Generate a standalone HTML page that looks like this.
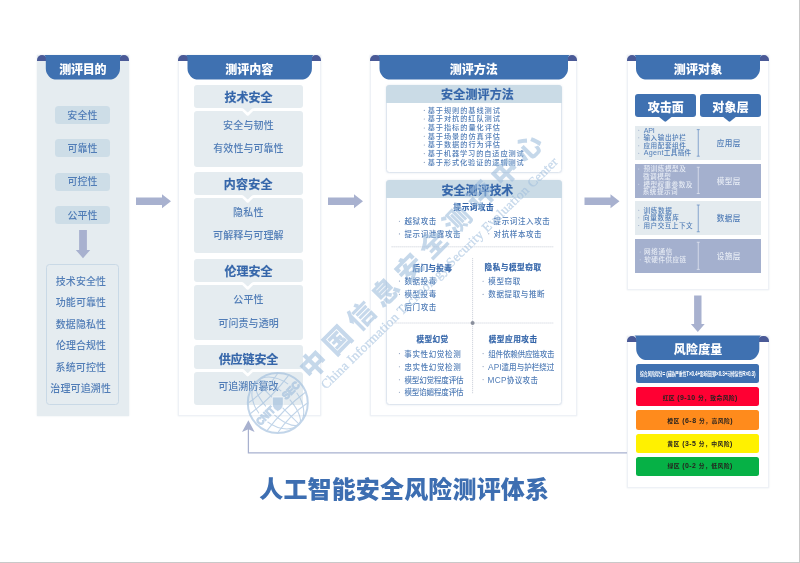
<!DOCTYPE html>
<html lang="zh-CN">
<head>
<meta charset="utf-8">
<title>人工智能安全风险测评体系</title>
<style>
*{margin:0;padding:0;box-sizing:border-box}
html,body{width:800px;height:563px;overflow:hidden;background:#fff}
body{position:relative;font-family:"Liberation Sans","Noto Sans CJK SC",sans-serif;color:#4b78b4}
#stage{position:absolute;left:0;top:0;width:800px;height:563px;overflow:hidden;border-right:1.5px solid #c9c9c9;border-bottom:1.5px solid #c9c9c9;filter:blur(.6px)}
#stage>div{position:absolute}
#stage>svg{position:absolute;left:0;top:0}
.panel{border:1px solid #eef1f6;box-shadow:0 0 1.5px rgba(160,175,200,.3)}
.ear{background:#4a5a97;border-radius:5px 5px 0 0}
.tab{background:#3f71b1}
.obox{border:1px solid #c9d9e6;border-radius:3.5px}
.wbox{border:1px solid #dfe6ef;border-radius:3.5px;background:#fff;box-shadow:0 0 2px rgba(150,170,200,.3)}
.t{white-space:nowrap;z-index:2}
</style>
</head>
<body>
<div id="stage">
<div class="panel" style="left:37px;top:55px;width:91.8px;height:360.7px;background:#e5ecf0;border-color:#e5ecf0"></div>
<div class="ear" style="left:37px;top:55px;width:10px;height:6.1px"></div>
<div class="ear" style="left:118.8px;top:55px;width:10px;height:6.1px"></div>
<div style="left:55.3px;top:105.7px;width:55px;height:18.2px;background:#cddde7;border-radius:3.5px;"></div>
<div style="left:55.3px;top:139.15px;width:55px;height:18.2px;background:#cddde7;border-radius:3.5px;"></div>
<div style="left:55.3px;top:172.6px;width:55px;height:18.2px;background:#cddde7;border-radius:3.5px;"></div>
<div style="left:55.3px;top:206.05px;width:55px;height:18.2px;background:#cddde7;border-radius:3.5px;"></div>
<div class="obox" style="left:46.2px;top:264.3px;width:73.2px;height:140.7px"></div>
<div class="panel" style="left:178.3px;top:55px;width:142.4px;height:360.7px;background:#fff;border-color:#eef1f6"></div>
<div class="ear" style="left:178.3px;top:55px;width:10.4px;height:6.1px"></div>
<div class="ear" style="left:310.7px;top:55px;width:10px;height:6.1px"></div>
<div style="left:194.4px;top:85.1px;width:108.2px;height:23.3px;background:#e5ecf0;border-radius:3px;"></div>
<div style="left:194.4px;top:110.9px;width:108.2px;height:55.7px;background:#e5ecf0;border-radius:3px;"></div>
<div style="left:194.4px;top:171.7px;width:108.2px;height:23.3px;background:#e5ecf0;border-radius:3px;"></div>
<div style="left:194.4px;top:197.9px;width:108.2px;height:55.3px;background:#e5ecf0;border-radius:3px;"></div>
<div style="left:194.4px;top:258.7px;width:108.2px;height:23.3px;background:#e5ecf0;border-radius:3px;"></div>
<div style="left:194.4px;top:284.9px;width:108.2px;height:55.3px;background:#e5ecf0;border-radius:3px;"></div>
<div style="left:194.4px;top:345.4px;width:108.2px;height:23.5px;background:#e5ecf0;border-radius:3px;"></div>
<div style="left:194.4px;top:371.5px;width:108.2px;height:33.8px;background:#e5ecf0;border-radius:3px;"></div>
<div class="panel" style="left:370px;top:55px;width:207.3px;height:360.7px;background:#fff;border-color:#eef1f6"></div>
<div class="ear" style="left:370px;top:55px;width:10.7px;height:6.1px"></div>
<div class="ear" style="left:566.8px;top:55px;width:10.5px;height:6.1px"></div>
<div class="wbox" style="left:385.6px;top:84.8px;width:176.4px;height:88.4px"></div>
<div style="left:385.6px;top:84.8px;width:176.4px;height:18px;background:#cadbe6;border-radius:3.5px 3.5px 0 0;"></div>
<div class="wbox" style="left:385.6px;top:180.3px;width:176.4px;height:225px"></div>
<div style="left:385.6px;top:180.3px;width:176.4px;height:17.5px;background:#cadbe6;border-radius:3.5px 3.5px 0 0;"></div>
<div class="panel" style="left:627px;top:55px;width:141.6px;height:235.4px;background:#fff;border-color:#eef1f6"></div>
<div class="ear" style="left:627px;top:55px;width:10.2px;height:6.1px"></div>
<div class="ear" style="left:758.8px;top:55px;width:9.8px;height:6.1px"></div>
<div style="left:635px;top:93.5px;width:61px;height:23.7px;background:#3f71b1;border-radius:3px;"></div>
<div style="left:700px;top:93.5px;width:61px;height:23.7px;background:#3f71b1;border-radius:3px;"></div>
<div style="left:634.8px;top:125.8px;width:126.1px;height:34.1px;background:#e4ebef;"></div>
<div style="left:634.8px;top:163.75px;width:126.1px;height:33.75px;background:#a4b0ce;"></div>
<div style="left:634.8px;top:201.1px;width:126.1px;height:33.8px;background:#e4ebef;"></div>
<div style="left:634.8px;top:239.1px;width:126.1px;height:33.8px;background:#a4b0ce;"></div>
<div class="panel" style="left:627px;top:335.5px;width:141.6px;height:152px;background:#fff;border-color:#eef1f6"></div>
<div class="ear" style="left:627px;top:335.5px;width:10.4px;height:6.1px"></div>
<div class="ear" style="left:758.1px;top:335.5px;width:10.5px;height:6.1px"></div>
<div style="left:635.6px;top:363.85px;width:123.4px;height:19.4px;background:#3f71b1;border-radius:2.5px;"></div>
<div style="left:635.6px;top:387.1px;width:123.4px;height:19.2px;background:#ff0033;border-radius:2.5px;"></div>
<div style="left:635.6px;top:410.4px;width:123.4px;height:19.2px;background:#ff8b1c;border-radius:2.5px;"></div>
<div style="left:635.6px;top:434px;width:123.4px;height:19.2px;background:#fff100;border-radius:2.5px;"></div>
<div style="left:635.6px;top:456.9px;width:123.4px;height:19.2px;background:#06b146;border-radius:2.5px;"></div>
<svg width="800" height="563" viewBox="0 0 800 563">
<path d="M43.6 55Q45.8 55 45.8 59.5V68.6A11 11 0 0 0 56.8 79.6H109A11 11 0 0 0 120 68.6V59.5Q120 55 122.2 55Z" fill="#3f71b1"/>
<polygon points="79.1,230 86.9,230 86.9,250.0 90.2,250.0 83,258.2 75.8,250.0 79.1,250.0" fill="#a8b1cf"/>
<path d="M185.3 55Q187.5 55 187.5 59.5V68.6A11 11 0 0 0 198.5 79.6H300.9A11 11 0 0 0 311.9 68.6V59.5Q311.9 55 314.1 55Z" fill="#3f71b1"/>
<polygon points="240.7,107.9 254.7,107.9 247.7,113.0" fill="#e5ecf0"/>
<polyline points="238.7,109.60000000000001 242.7,109.60000000000001 247.7,114.5 252.7,109.60000000000001 256.7,109.60000000000001" fill="none" stroke="#fff" stroke-width="2.6" stroke-linejoin="round"/>
<polygon points="240.7,194.5 254.7,194.5 247.7,199.6" fill="#e5ecf0"/>
<polyline points="238.7,196.6 242.7,196.6 247.7,201.5 252.7,196.6 256.7,196.6" fill="none" stroke="#fff" stroke-width="2.6" stroke-linejoin="round"/>
<polygon points="240.7,281.5 254.7,281.5 247.7,286.6" fill="#e5ecf0"/>
<polyline points="238.7,283.59999999999997 242.7,283.59999999999997 247.7,288.5 252.7,283.59999999999997 256.7,283.59999999999997" fill="none" stroke="#fff" stroke-width="2.6" stroke-linejoin="round"/>
<polygon points="240.7,368.4 254.7,368.4 247.7,373.5" fill="#e5ecf0"/>
<polyline points="238.7,370.2 242.7,370.2 247.7,375.1 252.7,370.2 256.7,370.2" fill="none" stroke="#fff" stroke-width="2.6" stroke-linejoin="round"/>
<path d="M377.3 55Q379.5 55 379.5 59.5V68.6A11 11 0 0 0 390.5 79.6H557A11 11 0 0 0 568 68.6V59.5Q568 55 570.2 55Z" fill="#3f71b1"/>
<circle cx="424.3" cy="110.4" r="0.55" fill="#7f93b5"/>
<circle cx="424.3" cy="119" r="0.55" fill="#7f93b5"/>
<circle cx="424.3" cy="128" r="0.55" fill="#7f93b5"/>
<circle cx="424.3" cy="136.3" r="0.55" fill="#7f93b5"/>
<circle cx="424.3" cy="145" r="0.55" fill="#7f93b5"/>
<circle cx="424.3" cy="153.6" r="0.55" fill="#7f93b5"/>
<circle cx="424.3" cy="162.4" r="0.55" fill="#7f93b5"/>
<circle cx="399.4" cy="221.3" r="0.55" fill="#7f93b5"/>
<circle cx="488.75" cy="221.2" r="0.55" fill="#7f93b5"/>
<circle cx="399.4" cy="233.9" r="0.55" fill="#7f93b5"/>
<circle cx="488.75" cy="233.7" r="0.55" fill="#7f93b5"/>
<circle cx="399.4" cy="281.1" r="0.55" fill="#7f93b5"/>
<circle cx="399.4" cy="294.2" r="0.55" fill="#7f93b5"/>
<circle cx="399.4" cy="307" r="0.55" fill="#7f93b5"/>
<circle cx="483.1" cy="281.2" r="0.55" fill="#7f93b5"/>
<circle cx="483.1" cy="294.4" r="0.55" fill="#7f93b5"/>
<circle cx="399.4" cy="353.6" r="0.55" fill="#7f93b5"/>
<circle cx="399.4" cy="366.7" r="0.55" fill="#7f93b5"/>
<circle cx="399.4" cy="379.7" r="0.55" fill="#7f93b5"/>
<circle cx="399.4" cy="392.2" r="0.55" fill="#7f93b5"/>
<circle cx="483.1" cy="353.6" r="0.55" fill="#7f93b5"/>
<circle cx="483.1" cy="366.6" r="0.55" fill="#7f93b5"/>
<circle cx="483.1" cy="379.6" r="0.55" fill="#7f93b5"/>
<line x1="391.6" y1="246.8" x2="553.8" y2="246.8" stroke="#bfc6d2" stroke-width="0.9" stroke-dasharray="1,1"/>
<line x1="391.6" y1="323" x2="553.8" y2="323" stroke="#bfc6d2" stroke-width="0.9" stroke-dasharray="1,1"/>
<line x1="472.6" y1="258.2" x2="472.6" y2="393.8" stroke="#bfc6d2" stroke-width="0.9" stroke-dasharray="1,1"/>
<circle cx="472.6" cy="323" r="2" fill="#8a8f9c"/>
<path d="M633.8 55Q636 55 636 59.5V68.6A11 11 0 0 0 647 79.6H749A11 11 0 0 0 760 68.6V59.5Q760 55 762.2 55Z" fill="#3f71b1"/>
<path d="M658.8 116.8H671.8L666.3 121.3Q665.3 122 664.3 121.3Z" fill="#3f71b1"/>
<path d="M723.0 116.8H736.0L730.5 121.3Q729.5 122 728.5 121.3Z" fill="#3f71b1"/>
<circle cx="638.75" cy="130.15" r="0.5" fill="#8fa3c4"/>
<circle cx="638.75" cy="137.85" r="0.5" fill="#8fa3c4"/>
<circle cx="638.75" cy="145.7" r="0.5" fill="#8fa3c4"/>
<circle cx="638.75" cy="153.25" r="0.5" fill="#8fa3c4"/>
<path d="M696.75 129.6H699.75M698.25 129.6V156.2M696.75 156.2H699.75" stroke="#5f88c0" stroke-width="0.7" fill="none"/>
<circle cx="638.75" cy="169" r="0.5" fill="#d5dcec"/>
<circle cx="638.75" cy="184.2" r="0.5" fill="#d5dcec"/>
<path d="M696.75 167.25H699.75M698.25 167.25V193.5M696.75 193.5H699.75" stroke="#e6ebf4" stroke-width="0.7" fill="none"/>
<circle cx="638.75" cy="210.2" r="0.5" fill="#8fa3c4"/>
<circle cx="638.75" cy="217.75" r="0.5" fill="#8fa3c4"/>
<circle cx="638.75" cy="225.6" r="0.5" fill="#8fa3c4"/>
<path d="M696.75 205H699.75M698.25 205V231.75M696.75 231.75H699.75" stroke="#5f88c0" stroke-width="0.7" fill="none"/>
<circle cx="640.2" cy="251.9" r="0.5" fill="#d5dcec"/>
<circle cx="640.2" cy="259.75" r="0.5" fill="#d5dcec"/>
<path d="M696.75 242.25H699.75M698.25 242.25V269.4M696.75 269.4H699.75" stroke="#e6ebf4" stroke-width="0.7" fill="none"/>
<polygon points="694.0999999999999,295.6 701.5,295.6 701.5,324.09999999999997 704.6999999999999,324.09999999999997 697.8,331.9 690.9,324.09999999999997 694.0999999999999,324.09999999999997" fill="#a8b1cf"/>
<path d="M634 335.5Q636.2 335.5 636.2 340V349.1A11 11 0 0 0 647.2 360.1H748.3A11 11 0 0 0 759.3 349.1V340Q759.3 335.5 761.5 335.5Z" fill="#3f71b1"/>
<polygon points="136,197.45 162,197.45 162,194.2 171,201.2 162,208.2 162,204.95 136,204.95" fill="#a8b1cf"/>
<polygon points="328,197.45 354,197.45 354,194.2 363,201.2 354,208.2 354,204.95 328,204.95" fill="#a8b1cf"/>
<polygon points="584.5,197.45 610.5,197.45 610.5,194.2 619.5,201.2 610.5,208.2 610.5,204.95 584.5,204.95" fill="#a8b1cf"/>
<path d="M627 452.8H248.4V429" stroke="#a8b1cf" stroke-width="1.25" fill="none"/>
<polygon points="242,432 248.4,420.3 254.6,432 248.4,429.3" fill="#a8b1cf"/>
</svg>
<div class="t" style="left:59.16px;top:60.00px;font-size:12px;line-height:20px;letter-spacing:-0.260px;color:#fff;font-weight:900;">测评目的</div>
<div class="t" style="left:67.30px;top:108.00px;font-size:10px;line-height:16px;letter-spacing:0.100px;color:#517db7;font-weight:500;">安全性</div>
<div class="t" style="left:67.40px;top:141.00px;font-size:10px;line-height:16px;letter-spacing:0.050px;color:#517db7;font-weight:500;">可靠性</div>
<div class="t" style="left:67.40px;top:174.00px;font-size:10px;line-height:16px;letter-spacing:0.050px;color:#517db7;font-weight:500;">可控性</div>
<div class="t" style="left:67.50px;top:208.00px;font-size:10px;line-height:16px;letter-spacing:0.000px;color:#517db7;font-weight:500;">公平性</div>
<div class="t" style="left:55.80px;top:274.00px;font-size:10px;line-height:16px;letter-spacing:0.050px;color:#517db7;font-weight:500;">技术安全性</div>
<div class="t" style="left:55.80px;top:295.00px;font-size:10px;line-height:16px;letter-spacing:0.050px;color:#517db7;font-weight:500;">功能可靠性</div>
<div class="t" style="left:55.80px;top:317.00px;font-size:10px;line-height:16px;letter-spacing:0.050px;color:#517db7;font-weight:500;">数据隐私性</div>
<div class="t" style="left:55.90px;top:338.00px;font-size:10px;line-height:16px;letter-spacing:0.025px;color:#517db7;font-weight:500;">伦理合规性</div>
<div class="t" style="left:55.60px;top:360.00px;font-size:10px;line-height:16px;letter-spacing:0.100px;color:#517db7;font-weight:500;">系统可控性</div>
<div class="t" style="left:50.30px;top:381.00px;font-size:10px;line-height:16px;letter-spacing:0.140px;color:#517db7;font-weight:500;">治理可追溯性</div>
<div class="t" style="left:225.36px;top:60.00px;font-size:12px;line-height:20px;letter-spacing:-0.007px;color:#fff;font-weight:900;">测评内容</div>
<div class="t" style="left:224.46px;top:88.00px;font-size:12px;line-height:20px;letter-spacing:-0.013px;color:#3566aa;font-weight:700;-webkit-text-stroke:.2px;">技术安全</div>
<div class="t" style="left:223.00px;top:118.00px;font-size:10px;line-height:16px;letter-spacing:0.200px;color:#517db7;font-weight:500;">安全与韧性</div>
<div class="t" style="left:213.30px;top:141.00px;font-size:10px;line-height:16px;letter-spacing:0.050px;color:#517db7;font-weight:500;">有效性与可靠性</div>
<div class="t" style="left:223.74px;top:175.00px;font-size:12px;line-height:20px;letter-spacing:0.227px;color:#3566aa;font-weight:700;-webkit-text-stroke:.2px;">内容安全</div>
<div class="t" style="left:232.90px;top:205.00px;font-size:10px;line-height:16px;letter-spacing:0.350px;color:#517db7;font-weight:500;">隐私性</div>
<div class="t" style="left:213.10px;top:228.00px;font-size:10px;line-height:16px;letter-spacing:0.067px;color:#517db7;font-weight:500;">可解释与可理解</div>
<div class="t" style="left:224.58px;top:262.00px;font-size:12px;line-height:20px;letter-spacing:-0.053px;color:#3566aa;font-weight:700;-webkit-text-stroke:.2px;">伦理安全</div>
<div class="t" style="left:233.20px;top:292.00px;font-size:10px;line-height:16px;letter-spacing:0.200px;color:#517db7;font-weight:500;">公平性</div>
<div class="t" style="left:218.30px;top:316.00px;font-size:10px;line-height:16px;letter-spacing:0.100px;color:#517db7;font-weight:500;">可问责与透明</div>
<div class="t" style="left:218.68px;top:350.00px;font-size:12px;line-height:20px;letter-spacing:-0.090px;color:#3566aa;font-weight:700;-webkit-text-stroke:.2px;">供应链安全</div>
<div class="t" style="left:218.30px;top:379.00px;font-size:10px;line-height:16px;letter-spacing:0.020px;color:#517db7;font-weight:500;">可追溯防篡改</div>
<div class="t" style="left:449.66px;top:60.00px;font-size:12px;line-height:20px;letter-spacing:0.027px;color:#fff;font-weight:900;">测评方法</div>
<div class="t" style="left:441.10px;top:85.00px;font-size:12px;line-height:20px;letter-spacing:0.152px;color:#3566aa;font-weight:700;-webkit-text-stroke:.2px;">安全测评方法</div>
<div class="t" style="left:427.68px;top:105.00px;font-size:7.2px;line-height:12px;letter-spacing:0.945px;color:#517db7;font-weight:500;">基于规则的基线测试</div>
<div class="t" style="left:427.68px;top:113.00px;font-size:7.2px;line-height:12px;letter-spacing:0.945px;color:#517db7;font-weight:500;">基于对抗的红队测试</div>
<div class="t" style="left:427.68px;top:122.00px;font-size:7.2px;line-height:12px;letter-spacing:0.954px;color:#517db7;font-weight:500;">基于指标的量化评估</div>
<div class="t" style="left:427.68px;top:131.00px;font-size:7.2px;line-height:12px;letter-spacing:0.954px;color:#517db7;font-weight:500;">基于场景的仿真评估</div>
<div class="t" style="left:427.68px;top:139.00px;font-size:7.2px;line-height:12px;letter-spacing:0.954px;color:#517db7;font-weight:500;">基于数据的行为评估</div>
<div class="t" style="left:427.68px;top:148.00px;font-size:7.2px;line-height:12px;letter-spacing:0.892px;color:#517db7;font-weight:500;">基于机器学习的自适应测试</div>
<div class="t" style="left:427.68px;top:157.00px;font-size:7.2px;line-height:12px;letter-spacing:0.892px;color:#517db7;font-weight:500;">基于形式化验证的逻辑测试</div>
<div class="t" style="left:441.60px;top:181.00px;font-size:12px;line-height:20px;letter-spacing:-0.052px;color:#3566aa;font-weight:700;-webkit-text-stroke:.2px;">安全测评技术</div>
<div class="t" style="left:453.60px;top:201.00px;font-size:7.6px;line-height:14px;letter-spacing:0.527px;color:#3566aa;font-weight:700;-webkit-text-stroke:.2px;">提示词攻击</div>
<div class="t" style="left:404.45px;top:216.00px;font-size:7.5px;line-height:12px;letter-spacing:0.642px;color:#517db7;font-weight:500;">越狱攻击</div>
<div class="t" style="left:493.60px;top:216.00px;font-size:7.5px;line-height:12px;letter-spacing:0.613px;color:#517db7;font-weight:500;">提示词注入攻击</div>
<div class="t" style="left:404.45px;top:229.00px;font-size:7.5px;line-height:12px;letter-spacing:0.604px;color:#517db7;font-weight:500;">提示词泄露攻击</div>
<div class="t" style="left:493.52px;top:229.00px;font-size:7.5px;line-height:12px;letter-spacing:0.620px;color:#517db7;font-weight:500;">对抗样本攻击</div>
<div class="t" style="left:404.38px;top:276.00px;font-size:7.5px;line-height:12px;letter-spacing:0.617px;color:#517db7;font-weight:500;">数据投毒</div>
<div class="t" style="left:404.45px;top:289.00px;font-size:7.5px;line-height:12px;letter-spacing:0.592px;color:#517db7;font-weight:500;">模型投毒</div>
<div class="t" style="left:404.45px;top:302.00px;font-size:7.5px;line-height:12px;letter-spacing:0.642px;color:#517db7;font-weight:500;">后门攻击</div>
<div class="t" style="left:488.35px;top:276.00px;font-size:7.5px;line-height:12px;letter-spacing:0.600px;color:#517db7;font-weight:500;">模型窃取</div>
<div class="t" style="left:488.27px;top:289.00px;font-size:7.5px;line-height:12px;letter-spacing:0.642px;color:#517db7;font-weight:500;">数据提取与推断</div>
<div class="t" style="left:404.30px;top:349.00px;font-size:7.5px;line-height:12px;letter-spacing:0.642px;color:#517db7;font-weight:500;">事实性幻觉检测</div>
<div class="t" style="left:404.38px;top:362.00px;font-size:7.5px;line-height:12px;letter-spacing:0.629px;color:#517db7;font-weight:500;">忠实性幻觉检测</div>
<div class="t" style="left:404.45px;top:375.00px;font-size:7.5px;line-height:12px;letter-spacing:-0.132px;color:#517db7;font-weight:500;">模型幻觉程度评估</div>
<div class="t" style="left:404.45px;top:387.00px;font-size:7.5px;line-height:12px;letter-spacing:-0.132px;color:#517db7;font-weight:500;">模型谄媚程度评估</div>
<div class="t" style="left:488.27px;top:349.00px;font-size:7.5px;line-height:12px;letter-spacing:-0.162px;color:#517db7;font-weight:500;">组件依赖供应链攻击</div>
<div class="t" style="left:488.10px;top:362.00px;font-size:7.5px;line-height:12px;letter-spacing:0.048px;color:#517db7;font-weight:500;"><span style="font-size:8.25px">API</span>滥用与护栏绕过</div>
<div class="t" style="left:487.44px;top:375.00px;font-size:7.5px;line-height:12px;letter-spacing:0.350px;color:#517db7;font-weight:500;"><span style="font-size:8.25px">MCP</span>协议攻击</div>
<div class="t" style="left:412.55px;top:262.00px;font-size:7.6px;line-height:14px;letter-spacing:0.320px;color:#3566aa;font-weight:700;-webkit-text-stroke:.2px;">后门与投毒</div>
<div class="t" style="left:484.47px;top:261.00px;font-size:7.6px;line-height:14px;letter-spacing:0.564px;color:#3566aa;font-weight:700;-webkit-text-stroke:.2px;">隐私与模型窃取</div>
<div class="t" style="left:416.42px;top:333.00px;font-size:7.6px;line-height:14px;letter-spacing:0.427px;color:#3566aa;font-weight:700;-webkit-text-stroke:.2px;">模型幻觉</div>
<div class="t" style="left:488.67px;top:333.00px;font-size:7.6px;line-height:14px;letter-spacing:0.586px;color:#3566aa;font-weight:700;-webkit-text-stroke:.2px;">模型应用攻击</div>
<div class="t" style="left:673.76px;top:60.00px;font-size:12px;line-height:20px;letter-spacing:0.160px;color:#fff;font-weight:900;">测评对象</div>
<div class="t" style="left:647.78px;top:98.00px;font-size:12px;line-height:20px;letter-spacing:0.050px;color:#fff;font-weight:900;">攻击面</div>
<div class="t" style="left:712.26px;top:98.00px;font-size:12px;line-height:20px;letter-spacing:0.220px;color:#fff;font-weight:900;">对象层</div>
<div class="t" style="left:716.77px;top:137.00px;font-size:7.6px;line-height:14px;letter-spacing:0.354px;color:#517db7;font-weight:500;">应用层</div>
<div class="t" style="left:643.65px;top:125.00px;font-size:6.6px;line-height:12px;letter-spacing:-0.181px;color:#517db7;font-weight:500;"><span style="font-size:7.13px">API</span></div>
<div class="t" style="left:643.45px;top:132.00px;font-size:6.6px;line-height:12px;letter-spacing:0.572px;color:#517db7;font-weight:500;">输入输出护栏</div>
<div class="t" style="left:643.45px;top:140.00px;font-size:6.6px;line-height:12px;letter-spacing:0.572px;color:#517db7;font-weight:500;">应用配套组件</div>
<div class="t" style="left:643.65px;top:147.00px;font-size:6.6px;line-height:12px;letter-spacing:0.311px;color:#517db7;font-weight:500;"><span style="font-size:7.13px">Agent</span>工具插件</div>
<div class="t" style="left:716.85px;top:175.00px;font-size:7.6px;line-height:14px;letter-spacing:0.316px;color:#e6ebf4;font-weight:500;">模型层</div>
<div class="t" style="left:643.45px;top:163.00px;font-size:6.6px;line-height:12px;letter-spacing:0.559px;color:#e6ebf4;font-weight:500;">预训练模型及</div>
<div class="t" style="left:643.03px;top:171.00px;font-size:6.6px;line-height:12px;letter-spacing:0.477px;color:#e6ebf4;font-weight:500;">微调模型</div>
<div class="t" style="left:643.52px;top:179.00px;font-size:6.6px;line-height:12px;letter-spacing:0.430px;color:#e6ebf4;font-weight:500;">模型权重参数及</div>
<div class="t" style="left:642.77px;top:186.00px;font-size:6.6px;line-height:12px;letter-spacing:0.486px;color:#e6ebf4;font-weight:500;">系统提示词</div>
<div class="t" style="left:716.77px;top:212.00px;font-size:7.6px;line-height:14px;letter-spacing:0.354px;color:#517db7;font-weight:500;">数据层</div>
<div class="t" style="left:643.45px;top:205.00px;font-size:6.6px;line-height:12px;letter-spacing:0.637px;color:#517db7;font-weight:500;">训练数据</div>
<div class="t" style="left:643.06px;top:212.00px;font-size:6.6px;line-height:12px;letter-spacing:0.677px;color:#517db7;font-weight:500;">向量数据库</div>
<div class="t" style="left:643.52px;top:220.00px;font-size:6.6px;line-height:12px;letter-spacing:0.486px;color:#517db7;font-weight:500;">用户交互上下文</div>
<div class="t" style="left:716.70px;top:250.00px;font-size:7.6px;line-height:14px;letter-spacing:0.392px;color:#e6ebf4;font-weight:500;">设施层</div>
<div class="t" style="left:643.97px;top:246.00px;font-size:6.6px;line-height:12px;letter-spacing:0.631px;color:#e6ebf4;font-weight:500;">网络通信</div>
<div class="t" style="left:644.30px;top:254.00px;font-size:6.6px;line-height:12px;letter-spacing:0.446px;color:#e6ebf4;font-weight:500;">软硬件供应链</div>
<div class="t" style="left:673.76px;top:340.00px;font-size:12px;line-height:20px;letter-spacing:0.200px;color:#fff;font-weight:900;">风险度量</div>
<div class="t" style="left:640.07px;top:371.00px;font-size:3.9px;line-height:8px;letter-spacing:-0.159px;color:#fff;font-weight:700;transform:scale(1,1.35);">综合风险得分<span style="font-size:4.68px">= (</span>威胁严重性<span style="font-size:4.68px">T×0.4+</span>影响范围<span style="font-size:4.68px">I×0.3+</span>可修复性<span style="font-size:4.68px">R×0.3)</span></div>
<div class="t" style="left:662.64px;top:393.00px;font-size:5.8px;line-height:10px;letter-spacing:0.395px;color:#26221f;font-weight:700;">红区<span style="font-size:6.96px"> (9-10 </span>分，致命风险<span style="font-size:6.96px">)</span></div>
<div class="t" style="left:667.24px;top:416.00px;font-size:5.8px;line-height:10px;letter-spacing:0.484px;color:#26221f;font-weight:700;">橙区<span style="font-size:6.96px"> (6-8 </span>分，高风险<span style="font-size:6.96px">)</span></div>
<div class="t" style="left:667.37px;top:439.00px;font-size:5.8px;line-height:10px;letter-spacing:0.444px;color:#26221f;font-weight:700;">黄区<span style="font-size:6.96px"> (3-5 </span>分，中风险<span style="font-size:6.96px">)</span></div>
<div class="t" style="left:667.48px;top:461.00px;font-size:5.8px;line-height:10px;letter-spacing:0.435px;color:#26221f;font-weight:700;">绿区<span style="font-size:6.96px"> (0-2 </span>分，低风险<span style="font-size:6.96px">)</span></div>
<div class="t" style="left:259.22px;top:470.00px;font-size:24px;line-height:40px;letter-spacing:0.158px;color:#3d6eb1;font-weight:900;">人工智能安全风险测评体系</div>
<svg width="800" height="563" viewBox="0 0 800 563" style="z-index:3">
<g opacity="0.58" fill="#9dbcdc" stroke="none">
<text transform="translate(313.5,364.1) rotate(-45.2)" x="-13.5" y="10" style="font-family:&quot;Liberation Sans&quot;,&quot;Noto Sans CJK SC&quot;,sans-serif;font-weight:900;font-size:27px;letter-spacing:6.9px">中国信息安全测评中心</text>
<text transform="translate(323.2,387) rotate(-44.3)" x="0" y="4" style="font-family:&quot;Liberation Serif&quot;,serif;font-size:13.2px;letter-spacing:0.3px" stroke="#9dbcdc" stroke-width="0.3">China Information Technology Security Evaluation Center</text>
</g>
<g opacity="0.62" transform="translate(277.8,403)" fill="none" stroke="#9dbcdc" stroke-width="1.1">
<circle r="30" stroke-width="2"/>
<g transform="rotate(-45)">
<clipPath id="wmc"><path clip-rule="evenodd" d="M-40 -40H40V40H-40ZM-29.5 -6H29.5V6H-29.5Z"/></clipPath>
<g clip-path="url(#wmc)">
<ellipse rx="11" ry="30"/>
<ellipse rx="21" ry="30"/>
<path d="M-21.4 -21 Q0 -17 21.4 -21"/>
<path d="M-27.5 -12 Q0 -8 27.5 -12"/>
<path d="M-27.5 12 Q0 8 27.5 12"/>
<path d="M-21.4 21 Q0 17 21.4 21"/>
<path d="M0 -30V30"/>
</g>
<text x="-28.5" y="3.9" style="font-family:&quot;Liberation Sans&quot;,sans-serif;font-weight:700;font-size:10.5px" fill="#9dbcdc" stroke="#9dbcdc" stroke-width="1.1" textLength="21.5" lengthAdjust="spacingAndGlyphs">CNIT</text>
<text x="8" y="3.9" style="font-family:&quot;Liberation Sans&quot;,sans-serif;font-weight:700;font-size:10.5px" fill="#9dbcdc" stroke="#9dbcdc" stroke-width="1.1" textLength="20.5" lengthAdjust="spacingAndGlyphs">SEC</text>
</g>
<path d="M-5.5 -6 H5.5 V1 Q5.5 6 0 8.5 Q-5.5 6 -5.5 1 Z" fill="#9dbcdc" stroke="#fff" stroke-width="0.8"/>
</g>
</svg>
</div>
</body>
</html>
